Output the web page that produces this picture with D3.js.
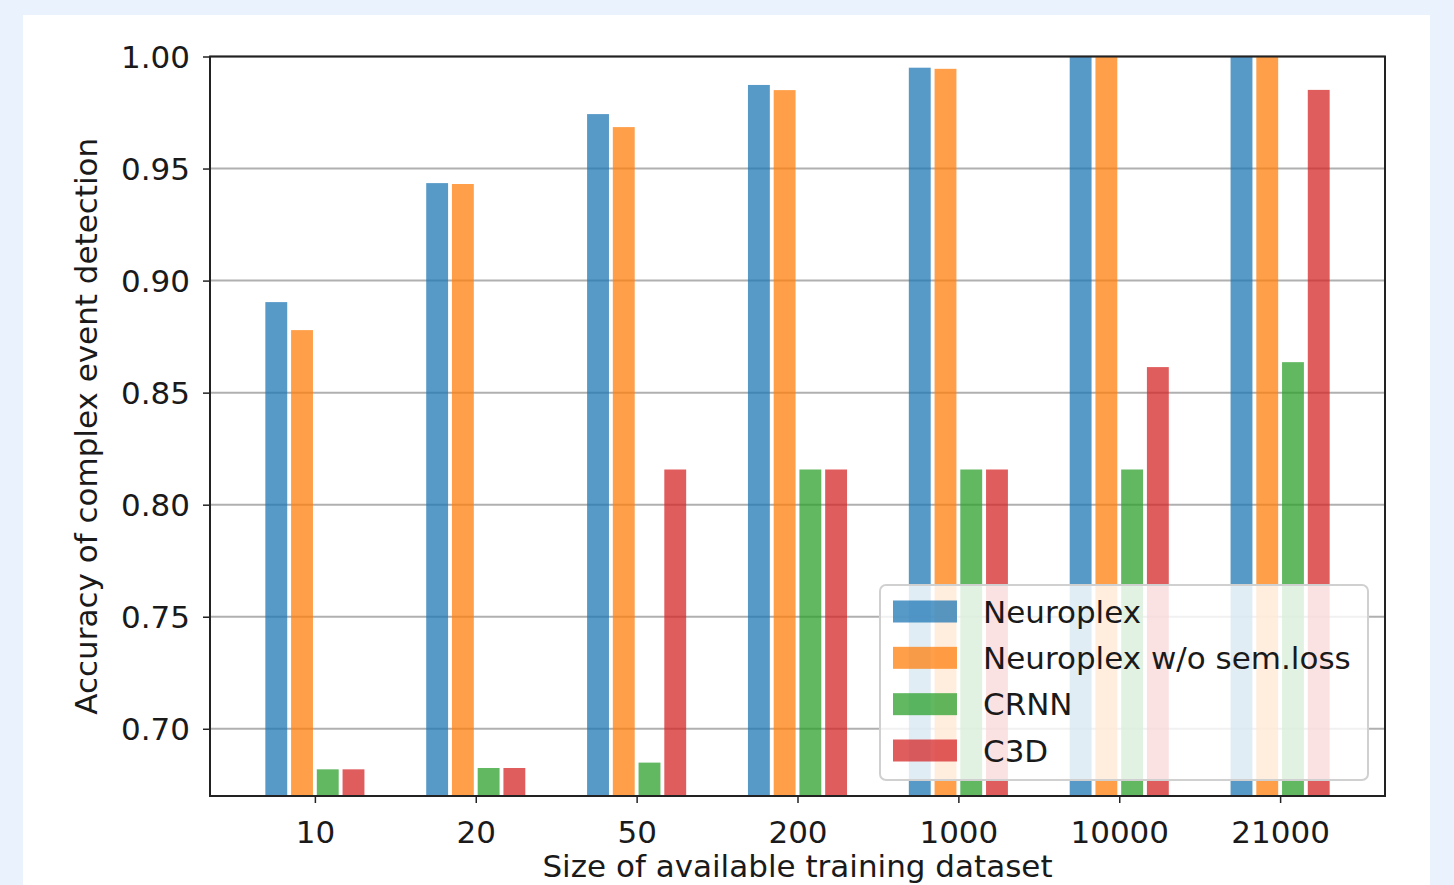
<!DOCTYPE html>
<html>
<head>
<meta charset="utf-8">
<script src="https://cdn.jsdelivr.net/npm/d3@7"></script>
<style>
  html, body { margin: 0; padding: 0; background: #eaf3fd; }
  svg { display: block; }
  text { font-family: "DejaVu Sans", sans-serif; fill: #1a1a1a; }
</style>
</head>
<body>
<svg id="chart" width="1454" height="885"></svg>
<script>
// ---- data ----
const categories = ["10", "20", "50", "200", "1000", "10000", "21000"];
const seriesNames = ["Neuroplex", "Neuroplex w/o sem.loss", "CRNN", "C3D"];
const neuroplex      = [0.8904, 0.9435, 0.9743, 0.9873, 0.9950, 1.0000, 1.0000];
const neuroplexNoSem = [0.8779, 0.9431, 0.9685, 0.9850, 0.9945, 1.0000, 1.0000];
const crnn           = [0.6819, 0.6825, 0.6849, 0.8157, 0.8157, 0.8157, 0.8636];
const c3d            = [0.6819, 0.6825, 0.8157, 0.8157, 0.8157, 0.8614, 0.9851];
const yTicks = [0.70, 0.75, 0.80, 0.85, 0.90, 0.95, 1.00];
const seriesColors = ["#1f77b4", "#ff7f0e", "#2ca02c", "#d62728"];

const seriesValues = [neuroplex, neuroplexNoSem, crnn, c3d];

// ---- layout ----
const svg = d3.select("#chart");
const W = 1454, H = 885;
const plot = { left: 210, right: 1385, top: 56.5, bottom: 796 };

// background card
svg.append("rect").attr("x", 0).attr("y", 0).attr("width", W).attr("height", H).attr("fill", "#eaf3fd");
svg.append("rect").attr("x", 23).attr("y", 15).attr("width", 1407).attr("height", H).attr("fill", "#ffffff");

const x = d3.scaleLinear().domain([-0.652, categories.length - 1 + 0.652]).range([plot.left, plot.right]);
const y = d3.scaleLinear().domain([0.67, 1.0]).range([plot.bottom, plot.top]);

const step = 0.16;      // spacing between bars in a group (data units)
const barW = 0.136;     // visible bar width (data units)

// clip
svg.append("defs").append("clipPath").attr("id", "plotclip")
  .append("rect").attr("x", plot.left).attr("y", plot.top)
  .attr("width", plot.right - plot.left).attr("height", plot.bottom - plot.top);

// grid
svg.append("g").selectAll("line").data(yTicks).join("line")
  .attr("x1", plot.left).attr("x2", plot.right)
  .attr("y1", d => y(d)).attr("y2", d => y(d))
  .attr("stroke", "#b0b0b0").attr("stroke-width", 2);

// bars
const barsG = svg.append("g").attr("clip-path", "url(#plotclip)");
seriesValues.forEach((vals, si) => {
  const off = (si - (seriesValues.length - 1) / 2) * step;
  barsG.append("g").selectAll("rect").data(vals).join("rect")
    .attr("x", (d, i) => x(i + off - barW / 2))
    .attr("width", x(barW) - x(0))
    .attr("y", d => y(d))
    .attr("height", d => y(0.67) - y(d))
    .attr("fill", seriesColors[si])
    .attr("fill-opacity", 0.75);
});

// axes
const xAxis = d3.axisBottom(x)
  .tickValues(d3.range(categories.length))
  .tickFormat(i => categories[i])
  .tickSize(7).tickPadding(10);
const gx = svg.append("g").attr("transform", `translate(0,${plot.bottom})`).call(xAxis);
gx.select(".domain").remove();
gx.selectAll(".tick line").attr("stroke", "#222").attr("stroke-width", 1.5);
gx.selectAll(".tick text").attr("font-size", 31).attr("font-family", "DejaVu Sans")
  .attr("fill", "#1a1a1a").attr("y", 47).attr("dy", 0);

const yAxis = d3.axisLeft(y).tickValues(yTicks).tickFormat(d3.format(".2f"))
  .tickSize(7).tickPadding(14);
const gy = svg.append("g").attr("transform", `translate(${plot.left},0)`).call(yAxis);
gy.select(".domain").remove();
gy.selectAll(".tick line").attr("stroke", "#222").attr("stroke-width", 1.5);
gy.selectAll(".tick text").attr("font-size", 31).attr("font-family", "DejaVu Sans")
  .attr("fill", "#1a1a1a").attr("dy", "0.36em").attr("x", -20);

// frame
svg.append("rect").attr("x", plot.left).attr("y", plot.top)
  .attr("width", plot.right - plot.left).attr("height", plot.bottom - plot.top)
  .attr("fill", "none").attr("stroke", "#222").attr("stroke-width", 2);

// axis labels
svg.append("text").attr("x", (plot.left + plot.right) / 2).attr("y", 877)
  .attr("text-anchor", "middle").attr("font-size", 31)
  .text("Size of available training dataset");
svg.append("text")
  .attr("transform", `translate(97,${(plot.top + plot.bottom) / 2}) rotate(-90)`)
  .attr("text-anchor", "middle").attr("font-size", 31)
  .text("Accuracy of complex event detection");

// legend
const lg = svg.append("g");
lg.append("rect").attr("x", 880).attr("y", 585).attr("width", 488).attr("height", 195)
  .attr("rx", 6).attr("ry", 6)
  .attr("fill", "#ffffff").attr("fill-opacity", 0.82)
  .attr("stroke", "#d0d0d0").attr("stroke-width", 2);
const rowY = d3.scaleLinear().domain([0, 3]).range([611.5, 750.5]);
seriesNames.forEach((name, i) => {
  lg.append("rect").attr("x", 893).attr("y", rowY(i) - 11).attr("width", 64).attr("height", 22)
    .attr("fill", seriesColors[i]).attr("fill-opacity", 0.75);
  lg.append("text").attr("x", 983).attr("y", rowY(i)).attr("dy", "0.36em")
    .attr("font-size", 31).text(name);
});
</script>
</body>
</html>
